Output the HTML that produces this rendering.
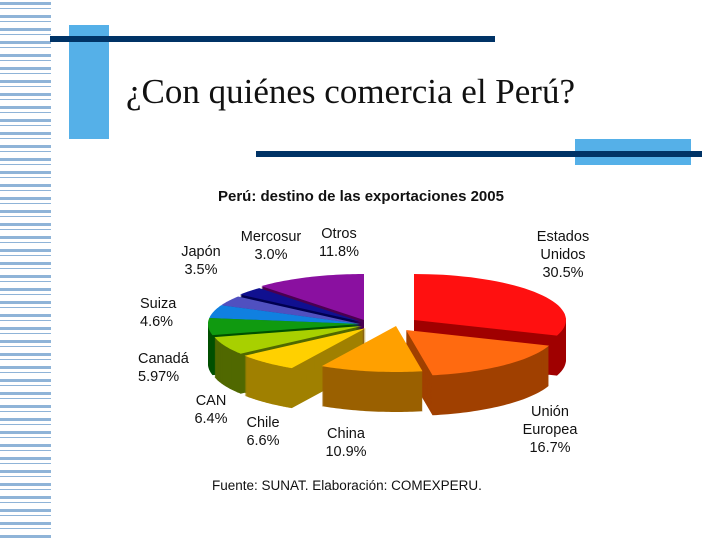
<!DOCTYPE html>
<html><head><meta charset="utf-8"><style>
body{margin:0;width:720px;height:540px;background:#fff;position:relative;overflow:hidden;font-family:"Liberation Sans",sans-serif}
.abs{position:absolute}
.lbl{position:absolute;font-size:14.5px;color:#111;line-height:18px;text-align:center}
</style></head><body>
<div class="abs" style="left:0;top:2px;width:51px;height:536px;background:repeating-linear-gradient(to bottom,#8fb4d8 0,#8fb4d8 3px,#fff 3px,#fff 6px,#8fb4d8 6px,#8fb4d8 7px,#fff 7px,#fff 13px)"></div>
<div class="abs" style="left:69px;top:25px;width:40px;height:114px;background:#55b0e8"></div>
<div class="abs" style="left:50px;top:36px;width:445px;height:6px;background:#003366"></div>
<div class="abs" style="left:126px;top:72px;font-family:'Liberation Serif',serif;font-size:35px;color:#111;white-space:nowrap">¿Con quiénes comercia el Perú?</div>
<div class="abs" style="left:575px;top:139px;width:116px;height:26px;background:#55b0e8"></div>
<div class="abs" style="left:256px;top:151px;width:446px;height:6px;background:#003366"></div>
<div class="abs" style="left:218px;top:188px;font-size:15px;font-weight:bold;color:#111;white-space:nowrap">Perú: destino de las exportaciones 2005</div>
<svg id="pie" class="abs" style="left:0;top:0" width="720" height="540"></svg>
<div class="lbl" style="left:530px;top:228px;width:66px">Estados<br>Unidos<br>30.5%</div>
<div class="lbl" style="left:512px;top:403px;width:76px">Unión<br>Europea<br>16.7%</div>
<div class="lbl" style="left:318px;top:425px;width:56px">China<br>10.9%</div>
<div class="lbl" style="left:238px;top:414px;width:50px">Chile<br>6.6%</div>
<div class="lbl" style="left:188px;top:392px;width:46px">CAN<br>6.4%</div>
<div class="lbl" style="left:138px;top:350px;width:60px;text-align:left">Canadá<br>5.97%</div>
<div class="lbl" style="left:140px;top:295px;width:50px;text-align:left">Suiza<br>4.6%</div>
<div class="lbl" style="left:176px;top:243px;width:50px">Japón<br>3.5%</div>
<div class="lbl" style="left:234px;top:228px;width:74px">Mercosur<br>3.0%</div>
<div class="lbl" style="left:312px;top:225px;width:54px">Otros<br>11.8%</div>
<div class="abs" style="left:212px;top:478px;font-size:13.5px;color:#111;white-space:nowrap">Fuente: SUNAT. Elaboración: COMEXPERU.</div>
<script>
const categories=["Estados Unidos","Unión Europea","China","Chile","CAN","Canadá","Suiza","Japón","Mercosur","Otros"];
const shares=[30.5,16.7,10.9,6.6,6.4,5.97,4.6,3.5,3.0,11.8];
const topColors=["#ff1010","#ff6a10","#ffa000","#ffd000","#a8d000","#109a10","#1080e0","#5050c0","#101090","#8a10a0"];
const sideColors=["#a00000","#a04000","#9a6000","#a08000","#506800","#005000","#004a8a","#2a2a78","#000050","#4a0050"];
const offX=[32,24,14,-16,-20,-22,-22,-22,-20,-18];
const offY=[-4,6,2,4,2,0,0,0,-2,-4];
const cx=382,cy=324,rx=152,ry=46,depth=40;
const svg=document.getElementById('pie');
const NS='http://www.w3.org/2000/svg';
const total=shares.reduce((a,b)=>a+b,0);
let acc=0;const slices=[];
shares.forEach((v,i)=>{const a1=acc/total*2*Math.PI;acc+=v;const a2=acc/total*2*Math.PI;slices.push({i,a1,a2,mid:(a1+a2)/2});});
function pathFor(s,dy){const x0=cx+offX[s.i],y0=cy+offY[s.i]+dy;let d=`M${x0},${y0}`;const n=40;
for(let k=0;k<=n;k++){const a=s.a1+(s.a2-s.a1)*k/n;d+=` L${(x0+rx*Math.sin(a)).toFixed(1)},${(y0-ry*Math.cos(a)).toFixed(1)}`;}return d+'Z';}
const order=slices.slice().sort((a,b)=>(-Math.cos(a.mid))-(-Math.cos(b.mid)));
order.forEach(s=>{
 const g=document.createElementNS(NS,'g');
 
 
 for(let dy=depth;dy>0;dy-=1){const p=document.createElementNS(NS,'path');p.setAttribute('d',pathFor(s,dy));p.setAttribute('fill',sideColors[s.i]);g.appendChild(p);}
 const t=document.createElementNS(NS,'path');t.setAttribute('d',pathFor(s,0));t.setAttribute('fill',topColors[s.i]);
 
 
 g.appendChild(t);svg.appendChild(g);
});
</script>
</body></html>
